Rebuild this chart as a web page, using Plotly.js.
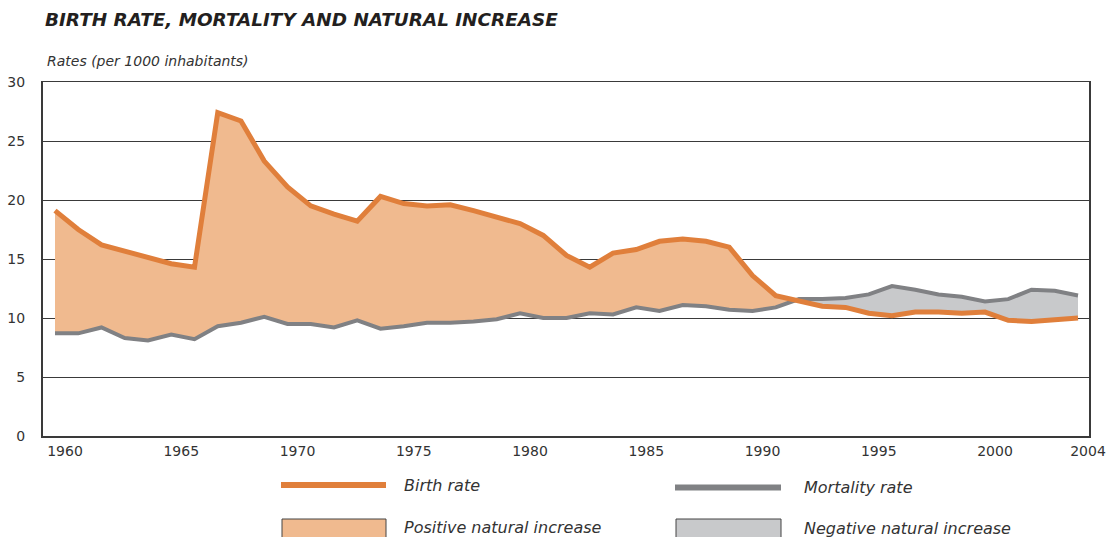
<!DOCTYPE html>
<html>
<head>
<meta charset="utf-8">
<script src="https://cdn.plot.ly/plotly-3.0.1.min.js"></script>
<style>
html,body{margin:0;padding:0;background:#fff;}
#chart{width:1108px;height:537px;}
</style>
</head>
<body>
<div id="chart"></div>
<script>
// ---- data ----
const years = [1960,1961,1962,1963,1964,1965,1966,1967,1968,1969,
               1970,1971,1972,1973,1974,1975,1976,1977,1978,1979,
               1980,1981,1982,1983,1984,1985,1986,1987,1988,1989,
               1990,1991,1992,1993,1994,1995,1996,1997,1998,1999,
               2000,2001,2002,2003,2004];
const birthRate = [19.1,17.5,16.2,15.7,15.2,14.6,14.3,27.4,26.7,23.3,
                   21.1,19.5,18.8,18.2,20.3,19.7,19.5,19.6,19.1,18.6,
                   18.0,17.0,15.3,14.3,15.5,15.8,16.5,16.7,16.5,16.0,
                   13.6,11.9,11.4,11.0,10.9,10.4,10.2,10.5,10.5,10.4,
                   10.5,9.8,9.7,9.8,10.0];
const mortalityRate = [8.7,8.7,9.2,8.3,8.1,8.6,8.2,9.3,9.6,10.1,
                       9.5,9.5,9.2,9.8,9.1,9.3,9.6,9.6,9.7,9.9,
                       10.4,10.0,10.0,10.4,10.3,10.9,10.6,11.1,11.0,10.7,
                       10.6,10.9,11.6,11.6,11.7,12.0,12.7,12.4,12.0,11.8,
                       11.4,11.6,12.4,12.3,11.9];
const xTickVals = [1960,1965,1970,1975,1980,1985,1990,1995,2000,2004];
const xTickText = ['1960','1965','1970','1975','1980','1985','1990','1995','2000','2004'];
const yTickVals = [0,5,10,15,20,25,30];

const titleText = 'BIRTH RATE, MORTALITY AND NATURAL INCREASE';
const subtitleText = 'Rates (per 1000 inhabitants)';
const legendLabels = ['Birth rate','Mortality rate','Positive natural increase','Negative natural increase'];

// ---- styles ----
const ORANGE = '#E07F3B';
const ORANGE_FILL = '#F0BA8F';
const GRAY = '#808184';
const GRAY_FILL = '#C8C9CB';
const DARK = '#333333';

// ---- insert crossing points so the two fills meet exactly ----
const xs = [], bs = [], ms = [];
for (let i = 0; i < years.length; i++) {
  xs.push(years[i]); bs.push(birthRate[i]); ms.push(mortalityRate[i]);
  if (i < years.length - 1) {
    const d0 = birthRate[i] - mortalityRate[i];
    const d1 = birthRate[i+1] - mortalityRate[i+1];
    if (d0 * d1 < 0) {
      const t = d0 / (d0 - d1);
      xs.push(years[i] + t * (years[i+1] - years[i]));
      const v = birthRate[i] + t * (birthRate[i+1] - birthRate[i]);
      bs.push(v); ms.push(v);
    }
  }
}
const upper = bs.map((b, i) => Math.max(b, ms[i]));

const noLine = {width: 0, color: 'rgba(0,0,0,0)'};
const traces = [
  {x: xs, y: ms, mode: 'lines', line: noLine, hoverinfo: 'skip'},
  {x: xs, y: upper, mode: 'lines', line: noLine, fill: 'tonexty', fillcolor: ORANGE_FILL, hoverinfo: 'skip'},
  {x: xs, y: bs, mode: 'lines', line: noLine, hoverinfo: 'skip'},
  {x: xs, y: upper, mode: 'lines', line: noLine, fill: 'tonexty', fillcolor: GRAY_FILL, hoverinfo: 'skip'},
  {x: years, y: mortalityRate, mode: 'lines', name: legendLabels[1], line: {color: GRAY, width: 4}},
  {x: years, y: birthRate, mode: 'lines', name: legendLabels[0], line: {color: ORANGE, width: 5}}
];

// ---- layout geometry (pixels -> paper) ----
const W = 1108, H = 537;
const M = {l: 43, r: 19, t: 82, b: 101};
const PW = W - M.l - M.r, PH = H - M.t - M.b;
const px = v => (v - M.l) / PW;
const py = v => (H - M.b - v) / PH;

const legendFont = {family: 'DejaVu Sans, sans-serif', size: 16, color: DARK};
const annotations = [
  {text: '<i>' + subtitleText + '</i>', xref: 'paper', yref: 'paper', x: px(45), y: py(61),
   xanchor: 'left', yanchor: 'middle', showarrow: false,
   font: {family: 'DejaVu Sans, sans-serif', size: 14, color: DARK}},
  {text: '<i>' + legendLabels[0] + '</i>', xref: 'paper', yref: 'paper', x: px(402), y: py(485),
   xanchor: 'left', yanchor: 'middle', showarrow: false, font: legendFont},
  {text: '<i>' + legendLabels[1] + '</i>', xref: 'paper', yref: 'paper', x: px(802), y: py(487),
   xanchor: 'left', yanchor: 'middle', showarrow: false, font: legendFont},
  {text: '<i>' + legendLabels[2] + '</i>', xref: 'paper', yref: 'paper', x: px(402), y: py(527),
   xanchor: 'left', yanchor: 'middle', showarrow: false, font: legendFont},
  {text: '<i>' + legendLabels[3] + '</i>', xref: 'paper', yref: 'paper', x: px(802), y: py(528),
   xanchor: 'left', yanchor: 'middle', showarrow: false, font: legendFont}
];
const shapes = [
  {type: 'line', xref: 'paper', yref: 'paper', x0: px(281), x1: px(386), y0: py(485), y1: py(485),
   line: {color: ORANGE, width: 6}},
  {type: 'line', xref: 'paper', yref: 'paper', x0: px(675), x1: px(781), y0: py(487.5), y1: py(487.5),
   line: {color: GRAY, width: 6}},
  {type: 'rect', xref: 'paper', yref: 'paper', x0: px(282), x1: px(386), y0: py(519), y1: py(550),
   fillcolor: ORANGE_FILL, line: {color: '#444', width: 1}},
  {type: 'rect', xref: 'paper', yref: 'paper', x0: px(676), x1: px(781), y0: py(519), y1: py(550),
   fillcolor: GRAY_FILL, line: {color: '#444', width: 1}}
];

const tickFont = {family: 'DejaVu Sans, sans-serif', size: 14, color: DARK};
const layout = {
  width: W, height: H,
  margin: M,
  paper_bgcolor: '#fff', plot_bgcolor: '#fff',
  showlegend: false,
  title: {
    text: '<b><i>' + titleText + '</i></b>',
    xref: 'container', yref: 'container',
    x: 45 / W, xanchor: 'left', y: 1 - 20 / H, yanchor: 'middle',
    font: {family: 'DejaVu Sans, sans-serif', size: 18.4, color: '#231F20'}
  },
  xaxis: {
    range: [1959.484, 2004.473],
    tickvals: xTickVals, ticktext: xTickText,
    showgrid: false, zeroline: false,
    showline: true, linecolor: '#3a3a3a', linewidth: 1.5, mirror: true,
    ticks: 'outside', ticklen: 2, tickcolor: 'rgba(0,0,0,0)',
    ticklabelshift: 10,
    tickfont: tickFont
  },
  yaxis: {
    range: [0, 30],
    tickvals: yTickVals,
    showgrid: true, gridcolor: '#3a3a3a', gridwidth: 1,
    zeroline: false,
    showline: true, linecolor: '#3a3a3a', linewidth: 2, mirror: true,
    ticks: 'outside', ticklen: 13, tickcolor: 'rgba(0,0,0,0)',
    tickfont: tickFont
  },
  annotations: annotations,
  shapes: shapes
};

Plotly.newPlot('chart', traces, layout, {displayModeBar: false, staticPlot: true});
</script>
</body>
</html>
